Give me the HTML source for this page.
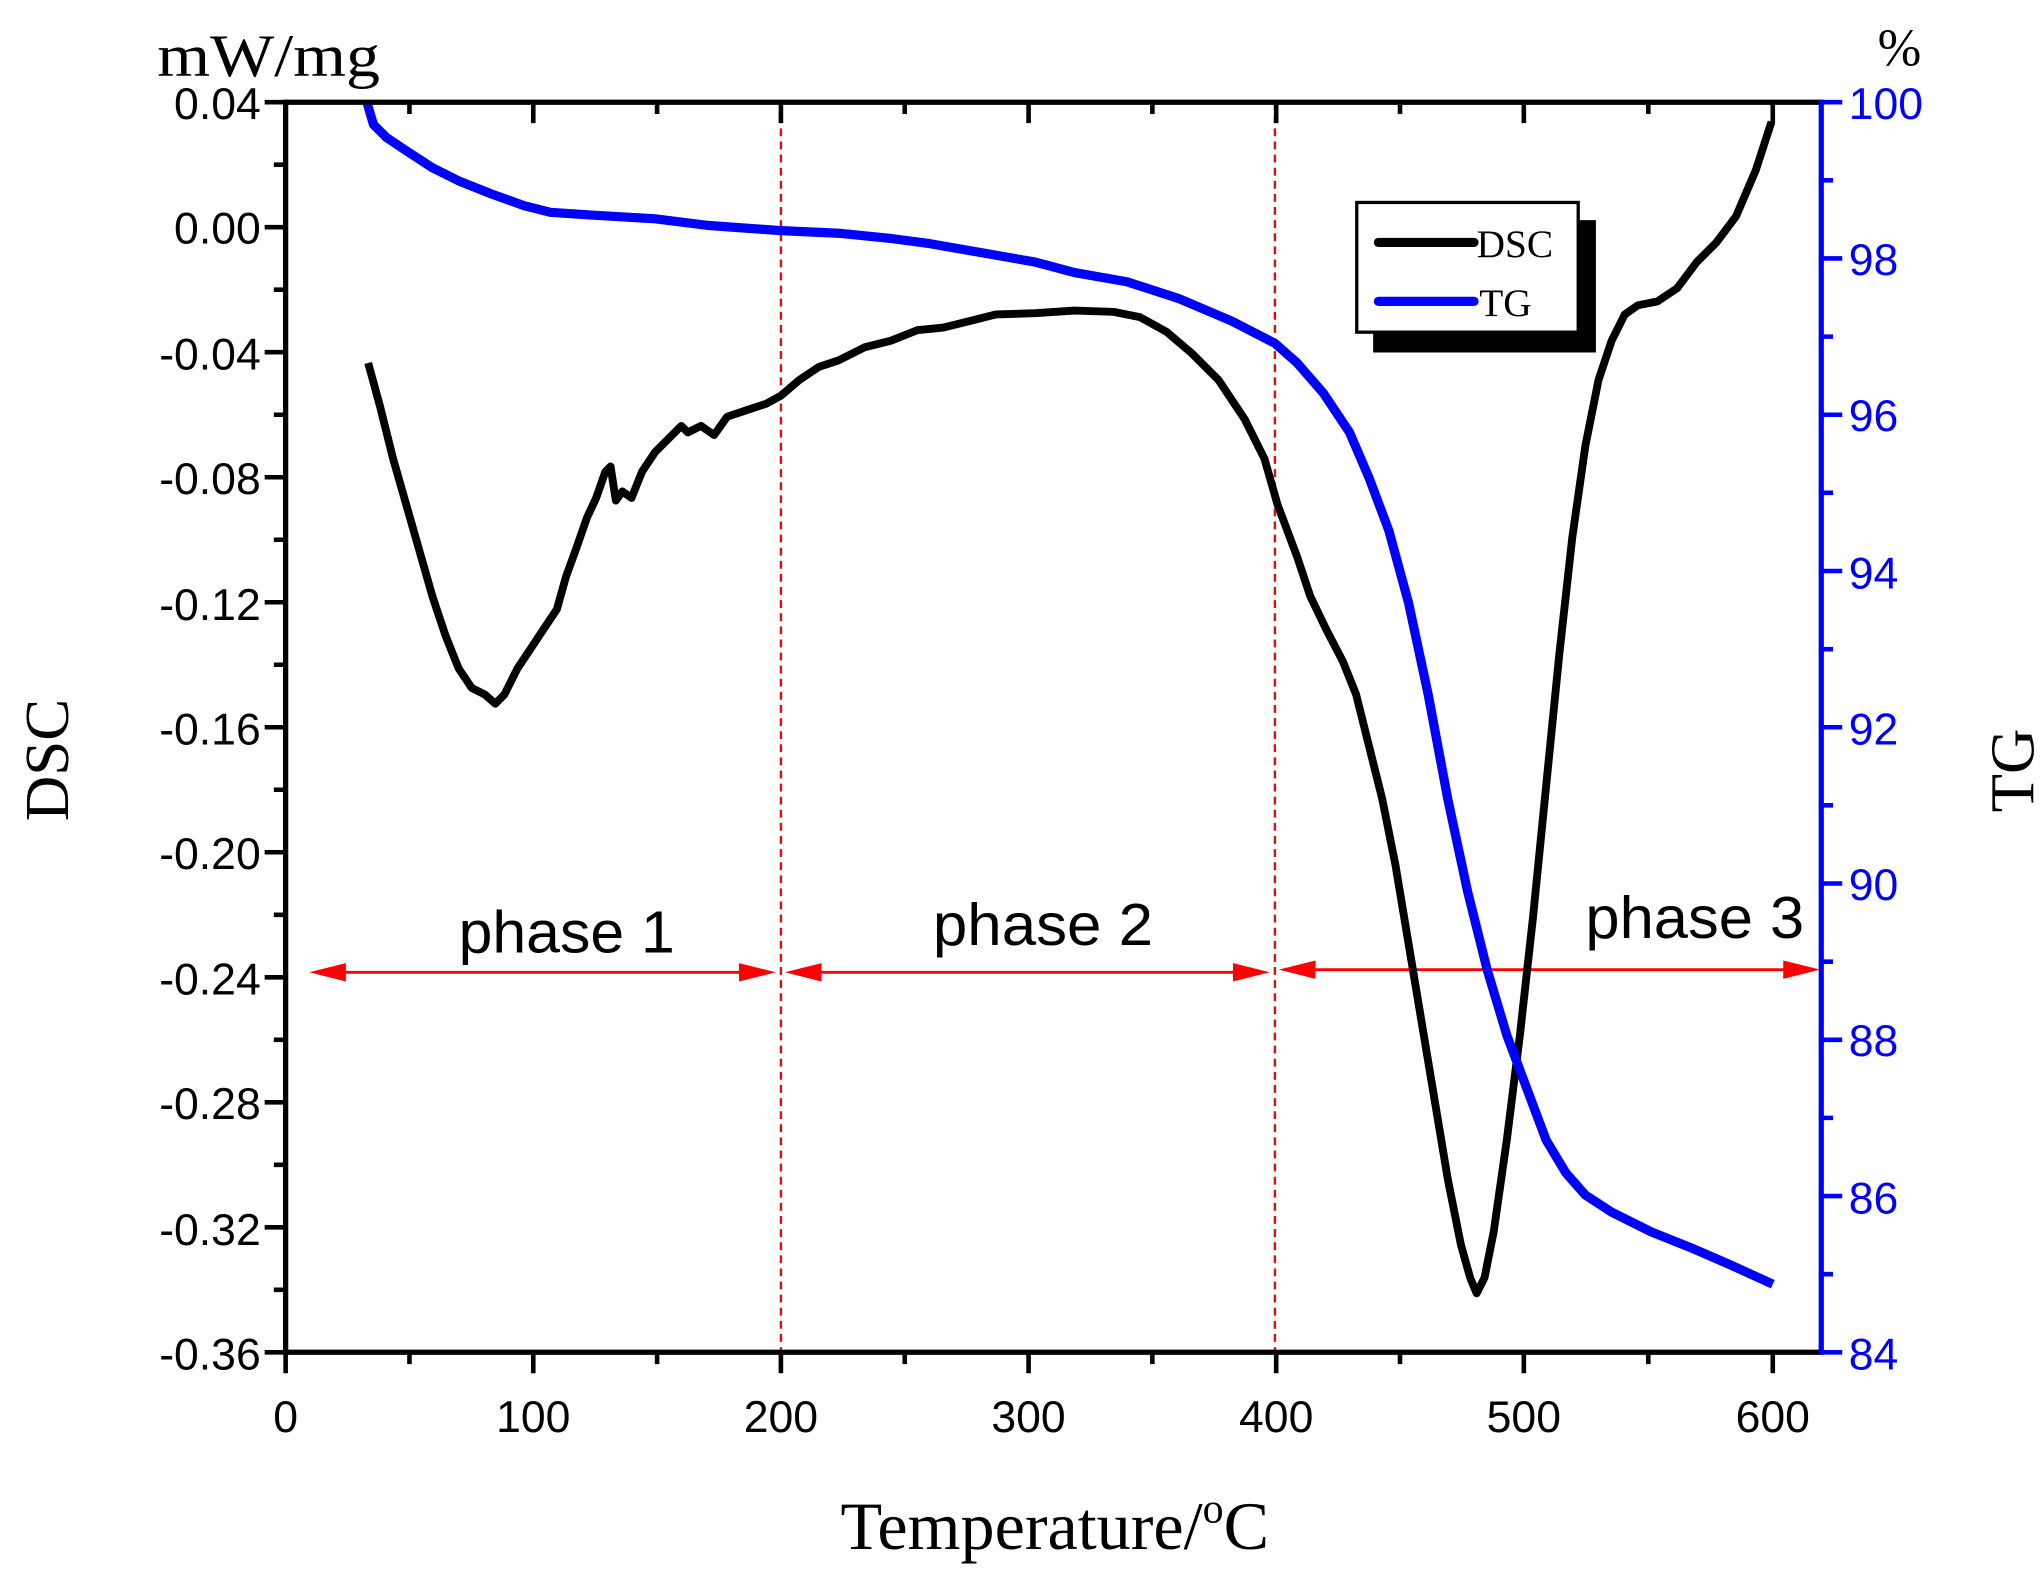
<!DOCTYPE html>
<html><head><meta charset="utf-8"><style>
html,body{margin:0;padding:0;background:#fff;}
svg{display:block;}
.t{font-family:"Liberation Sans",Arial,sans-serif;}
.s{font-family:"Liberation Serif","Times New Roman",serif;}
</style></head><body>
<svg width="2044" height="1579" viewBox="0 0 1560 1205" preserveAspectRatio="none" xmlns="http://www.w3.org/2000/svg">
<rect width="1560" height="1205" fill="#fff"/>
<g stroke="#f00" stroke-width="1.8" stroke-dasharray="6,4">
<line x1="596" y1="78" x2="596" y2="1032"/>
<line x1="973" y1="78" x2="973" y2="1032"/>
</g>
<g stroke="#f00" stroke-width="2.2" fill="#f00">
<line x1="245" y1="742" x2="583" y2="742"/>
<polygon points="236,742 264,735 264,749" stroke="none"/>
<polygon points="592,742 564,735 564,749" stroke="none"/>
<line x1="608" y1="742" x2="960" y2="742"/>
<polygon points="599,742 627,735 627,749" stroke="none"/>
<polygon points="969,742 941,735 941,749" stroke="none"/>
<line x1="985" y1="740" x2="1380" y2="740"/>
<polygon points="976,740 1004,733 1004,747" stroke="none"/>
<polygon points="1389,740 1361,733 1361,747" stroke="none"/>
</g>
<g class="t" font-size="45" fill="#000">
<text x="350" y="727" textLength="165" lengthAdjust="spacingAndGlyphs">phase 1</text>
<text x="712" y="721" textLength="168" lengthAdjust="spacingAndGlyphs">phase 2</text>
<text x="1210" y="716" textLength="167" lengthAdjust="spacingAndGlyphs">phase 3</text>
</g>
<polyline fill="none" stroke="#000" stroke-width="6" stroke-linejoin="round" points="281,277 290,310 300,350 310,385 320,420 330,455 340,485 350,510 360,525 370,530 378,537 385,530 395,510 405,495 415,480 425,465 432,440 440,418 448,395 455,380 462,360 466,356 470,382 475,375 482,380 490,360 500,345 510,335 520,325 525,330 535,325 545,332 555,318 570,313 585,308 596,302 610,290 625,280 640,275 660,265 680,260 700,252 720,250 740,245 760,240 790,239 820,237 850,238 870,242 890,253 910,270 930,290 950,320 965,350 975,385 990,425 1000,455 1012,480 1025,505 1035,530 1045,570 1055,610 1065,660 1075,720 1085,780 1095,840 1105,900 1115,950 1122,975 1127,987 1133,975 1140,940 1150,870 1160,790 1170,700 1180,600 1190,500 1200,410 1210,340 1220,290 1230,260 1240,240 1250,233 1265,230 1280,220 1295,200 1310,185 1325,165 1340,130 1352,93"/>
<polyline fill="none" stroke="#00f" stroke-width="7" stroke-linejoin="round" points="280,78 285,95 295,105 310,115 330,128 350,138 375,148 400,157 420,162 450,164 500,167 540,172 596,176 640,178 680,182 710,186 750,193 790,200 820,208 860,215 900,228 940,245 973,262 990,277 1010,300 1030,330 1045,365 1060,405 1075,460 1090,530 1105,610 1120,680 1135,740 1150,790 1165,830 1180,870 1195,895 1210,912 1230,925 1260,940 1290,952 1320,965 1353,980"/>
<g stroke="#000" stroke-width="4">
<line x1="218" y1="78" x2="1390" y2="78"/>
<line x1="218" y1="76" x2="218" y2="1034"/>
<line x1="216" y1="1032" x2="1390" y2="1032"/>
</g>
<line x1="1390" y1="76" x2="1390" y2="1034" stroke="#00f" stroke-width="4"/>
<g stroke="#000" stroke-width="3.5">
<path d="M218,1032v16 M407,1032v16 M596,1032v16 M785,1032v16 M974,1032v16 M1163,1032v16 M1353,1032v16
M312.5,1032v9 M501.5,1032v9 M690.5,1032v9 M879.5,1032v9 M1068.5,1032v9 M1258,1032v9
M407,78v16 M596,78v16 M785,78v16 M974,78v16 M1163,78v16 M1353,78v16
M312.5,78v9 M501.5,78v9 M690.5,78v9 M879.5,78v9 M1068.5,78v9 M1258,78v9"/>
<path d="M218,78h-16 M218,173.4h-16 M218,268.8h-16 M218,364.2h-16 M218,459.6h-16 M218,555h-16 M218,650.4h-16 M218,745.8h-16 M218,841.2h-16 M218,936.6h-16 M218,1032h-16
M218,125.7h-9 M218,221.1h-9 M218,316.5h-9 M218,411.9h-9 M218,507.3h-9 M218,602.7h-9 M218,698.1h-9 M218,793.5h-9 M218,888.9h-9 M218,984.3h-9"/>
</g>
<g stroke="#00f" stroke-width="3.5">
<path d="M1390,78h16 M1390,197.25h16 M1390,316.5h16 M1390,435.75h16 M1390,555h16 M1390,674.25h16 M1390,793.5h16 M1390,912.75h16 M1390,1032h16
M1390,137.6h9 M1390,256.9h9 M1390,376.1h9 M1390,495.4h9 M1390,614.6h9 M1390,733.9h9 M1390,853.1h9 M1390,972.4h9"/>
</g>
<g class="t" font-size="34" fill="#000" text-anchor="end">
<text x="199" y="91">0.04</text>
<text x="199" y="186">0.00</text>
<text x="199" y="282">-0.04</text>
<text x="199" y="377">-0.08</text>
<text x="199" y="473">-0.12</text>
<text x="199" y="568">-0.16</text>
<text x="199" y="663">-0.20</text>
<text x="199" y="759">-0.24</text>
<text x="199" y="854">-0.28</text>
<text x="199" y="950">-0.32</text>
<text x="199" y="1045">-0.36</text>
</g>
<g class="t" font-size="34" fill="#000" text-anchor="middle">
<text x="218" y="1093">0</text>
<text x="407" y="1093">100</text>
<text x="596" y="1093">200</text>
<text x="785" y="1093">300</text>
<text x="974" y="1093">400</text>
<text x="1163" y="1093">500</text>
<text x="1353" y="1093">600</text>
</g>
<g class="t" font-size="34" fill="#00f" text-anchor="start">
<text x="1411" y="91">100</text>
<text x="1411" y="210">98</text>
<text x="1411" y="329">96</text>
<text x="1411" y="449">94</text>
<text x="1411" y="568">92</text>
<text x="1411" y="687">90</text>
<text x="1411" y="806">88</text>
<text x="1411" y="926">86</text>
<text x="1411" y="1045">84</text>
</g>
<g class="s" fill="#000">
<text x="120" y="58" font-size="46" textLength="170" lengthAdjust="spacingAndGlyphs">mW/mg</text>
<text x="1433" y="50" font-size="40">%</text>
<text x="805" y="1182" font-size="52" text-anchor="middle">Temperature/<tspan font-size="32" dy="-20">o</tspan><tspan dy="20">C</tspan></text>
<text transform="translate(52,580) rotate(-90)" font-size="48" text-anchor="middle">DSC</text>
<text transform="translate(1552,588) rotate(-90)" font-size="48" text-anchor="middle">TG</text>
</g>
<rect x="1048" y="168" width="170" height="101" fill="#000"/>
<rect x="1035.5" y="154.5" width="169" height="99" fill="#fff" stroke="#000" stroke-width="2.5"/>
<line x1="1052" y1="185" x2="1125" y2="185" stroke="#000" stroke-width="7" stroke-linecap="round"/>
<line x1="1052" y1="230" x2="1125" y2="230" stroke="#00f" stroke-width="7" stroke-linecap="round"/>
<g class="s" font-size="30" fill="#000">
<text x="1127" y="196">DSC</text>
<text x="1129" y="241">TG</text>
</g>
</svg>
</body></html>
